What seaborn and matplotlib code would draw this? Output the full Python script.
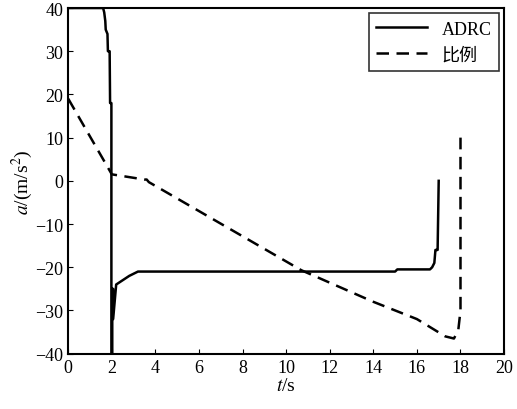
import matplotlib
matplotlib.use("Agg")
import matplotlib.pyplot as plt
import seaborn as sns
import pandas as pd

adrc_t = [0, 1.6, 1.65, 1.7, 1.72, 1.8, 1.82, 1.9, 1.92, 1.98, 1.98, 2.02, 2.02, 2.06, 2.06, 2.2, 2.5, 2.8, 3.0, 3.2, 15.0, 15.1, 16.6, 16.7, 16.75, 16.8, 16.85, 16.9, 16.95, 17.0]
adrc_a = [40, 40, 39, 37, 35, 34, 30, 30, 18, 18, -40, -40, -25, -25, -32, -24, -23, -22, -21.5, -21, -21, -20.5, -20.5, -20, -19.5, -19, -16, -16, -16, 0]
prop_t = [0, 2.0, 3.5, 3.6, 3.7, 10.7, 14.0, 16.0, 17.3, 17.7, 17.9, 18.0, 18.0]
prop_a = [19, 1.5, 0.3, 0.3, -0.3, -20.7, -28, -32, -36, -36.5, -34.5, -30, 10]

plt.rcParams['font.family'] = ['Liberation Serif', 'Noto Sans CJK SC']
plt.rcParams['mathtext.fontset'] = 'stix'
fig, ax = plt.subplots(figsize=(5.17, 4.10), dpi=100)
sns.lineplot(data=pd.DataFrame({'t': adrc_t, 'a': adrc_a}), x='t', y='a', sort=False,
             estimator=None, color='black', lw=1.8, ax=ax, label='ADRC')
sns.lineplot(data=pd.DataFrame({'t': prop_t, 'a': prop_a}), x='t', y='a', sort=False,
             estimator=None, color='black', lw=1.8, ls=(0, (5, 3)), ax=ax, label='比例')
ax.set_xlim(0, 20)
ax.set_ylim(-40, 40)
ax.set_xticks(range(0, 21, 2))
ax.set_yticks(range(-40, 41, 10))
ax.tick_params(direction='in', labelsize=13, top=False, right=False)
for s in ax.spines.values():
    s.set_linewidth(1.5)
ax.set_xlabel('$t$/s', fontsize=14, labelpad=1)
ax.set_ylabel('$a$/(m/s$^2$)', fontsize=14, labelpad=0)
leg = ax.legend(loc='upper right', fontsize=13, frameon=True, fancybox=False,
                edgecolor='black', handlelength=2.8, borderaxespad=0.3)
leg.get_frame().set_linewidth(1.2)
fig.subplots_adjust(left=0.132, right=0.975, top=0.978, bottom=0.135)
fig.savefig('out.png', dpi=100)
